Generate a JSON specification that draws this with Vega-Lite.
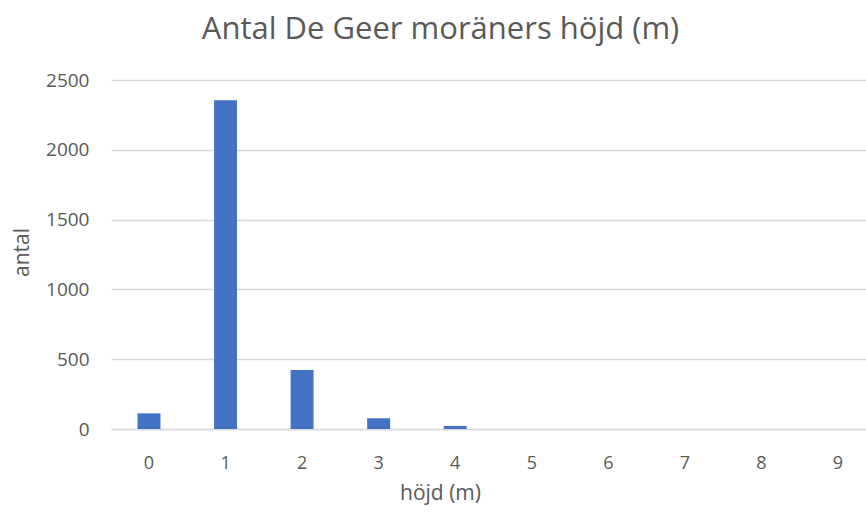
{
  "$schema": "https://vega.github.io/schema/vega-lite/v6.json",
  "autosize": {"type": "none"},
  "width": 755,
  "height": 349,
  "padding": {"left": 111, "top": 80, "right": 0, "bottom": 84},
  "background": "white",
  "title": {
    "text": "Antal De Geer moräners höjd (m)",
    "font": "Open Sans",
    "fontSize": 31,
    "fontWeight": "normal",
    "color": "#595959",
    "anchor": "middle",
    "dx": -48,
    "offset": 25
  },
  "data": {
    "values": [
      {"hojd": "0", "antal": 112},
      {"hojd": "1", "antal": 2355},
      {"hojd": "2", "antal": 422},
      {"hojd": "3", "antal": 77},
      {"hojd": "4", "antal": 22},
      {"hojd": "5", "antal": 0},
      {"hojd": "6", "antal": 0},
      {"hojd": "7", "antal": 0},
      {"hojd": "8", "antal": 0},
      {"hojd": "9", "antal": 0}
    ]
  },
  "mark": {"type": "bar", "color": "#4472C4"},
  "encoding": {
    "x": {
      "field": "hojd",
      "type": "ordinal",
      "sort": null,
      "scale": {"paddingInner": 0.7, "paddingOuter": 0.281, "align": 0.616},
      "axis": {
        "title": "höjd (m)",
        "titleFont": "Open Sans",
        "titleFontSize": 21,
        "titleFontWeight": "normal",
        "titleColor": "#595959",
        "titlePadding": 10,
        "titleX": 329,
        "labelFont": "Open Sans",
        "labelFontSize": 18,
        "labelColor": "#595959",
        "labelAngle": 0,
        "labelPadding": 25,
        "ticks": false,
        "domainColor": "#d9d9d9",
        "domainWidth": 1.5
      }
    },
    "y": {
      "field": "antal",
      "type": "quantitative",
      "scale": {"domain": [0, 2500], "nice": false},
      "axis": {
        "title": "antal",
        "titleFont": "Open Sans",
        "titleFontSize": 21,
        "titleFontWeight": "normal",
        "titleColor": "#595959",
        "titleX": -89,
        "titleY": 172,
        "titleAngle": -90,
        "titleBaseline": "middle",
        "titleAlign": "center",
        "values": [0, 500, 1000, 1500, 2000, 2500],
        "format": "d",
        "labelFont": "Open Sans",
        "labelFontSize": 19,
        "labelColor": "#595959",
        "labelPadding": 22,
        "ticks": false,
        "domain": false,
        "gridColor": "#d9d9d9",
        "gridWidth": 1.5
      }
    }
  },
  "config": {"view": {"stroke": null}}
}
